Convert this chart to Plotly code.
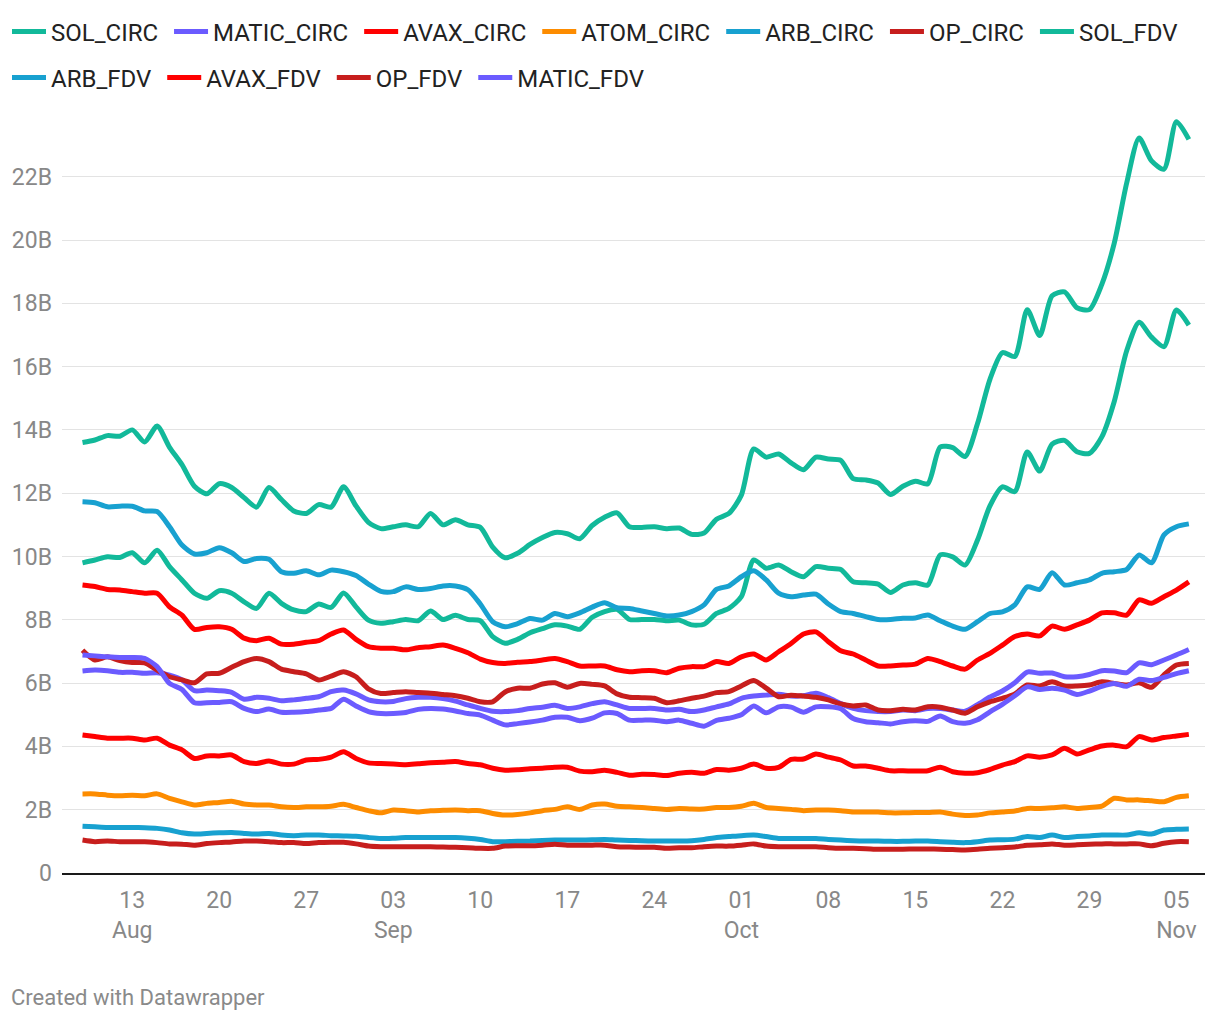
import pandas as pd
import plotly.graph_objects as go

dates = pd.date_range("2023-08-09", periods=90, freq="D")

SOL_FDV = [13.60, 13.68, 13.82, 13.80, 14.00, 13.62, 14.12, 13.45, 12.90, 12.22,
           11.98, 12.30, 12.18, 11.86, 11.56, 12.18, 11.80, 11.44, 11.36, 11.64,
           11.56, 12.20, 11.60, 11.08, 10.88, 10.94, 11.00, 10.94, 11.36, 11.00,
           11.16, 11.00, 10.92, 10.30, 9.96, 10.10, 10.38, 10.60, 10.76, 10.72,
           10.56, 10.98, 11.24, 11.38, 10.94, 10.92, 10.94, 10.88, 10.90, 10.70,
           10.74, 11.18, 11.36, 11.94, 13.40, 13.14, 13.24, 12.96, 12.74, 13.14,
           13.08, 13.04, 12.46, 12.42, 12.32, 11.96, 12.22, 12.38, 12.30, 13.46,
           13.44, 13.16, 14.20, 15.60, 16.44, 16.32, 17.80, 16.98, 18.24, 18.36,
           17.86, 17.80, 18.60, 19.90, 21.80, 23.22, 22.50, 22.24, 23.74, 23.18]

SOL_CIRC = [9.80, 9.89, 9.99, 9.97, 10.12, 9.80, 10.20, 9.68, 9.26, 8.84,
            8.68, 8.92, 8.84, 8.57, 8.36, 8.84, 8.52, 8.31, 8.26, 8.50,
            8.39, 8.85, 8.41, 7.99, 7.89, 7.94, 8.01, 7.97, 8.28, 8.01,
            8.14, 8.01, 7.97, 7.47, 7.26, 7.38, 7.59, 7.72, 7.84, 7.80,
            7.70, 8.08, 8.26, 8.33, 8.01, 8.01, 8.01, 7.97, 7.99, 7.84,
            7.86, 8.20, 8.36, 8.73, 9.89, 9.63, 9.73, 9.52, 9.36, 9.68,
            9.63, 9.59, 9.20, 9.17, 9.13, 8.86, 9.10, 9.17, 9.10, 10.05,
            9.99, 9.73, 10.52, 11.60, 12.20, 12.05, 13.30, 12.70, 13.55, 13.67,
            13.31, 13.26, 13.78, 14.90, 16.50, 17.40, 16.93, 16.63, 17.79, 17.31]

ARB_FDV = [11.73, 11.70, 11.57, 11.59, 11.59, 11.44, 11.42, 10.94, 10.36, 10.08,
           10.12, 10.28, 10.12, 9.84, 9.94, 9.91, 9.52, 9.47, 9.55, 9.42,
           9.57, 9.52, 9.40, 9.13, 8.90, 8.89, 9.04, 8.96, 8.99, 9.07,
           9.07, 8.95, 8.50, 7.94, 7.78, 7.88, 8.04, 7.99, 8.20, 8.10,
           8.22, 8.40, 8.54, 8.38, 8.36, 8.28, 8.20, 8.12, 8.15, 8.26,
           8.47, 8.96, 9.07, 9.36, 9.55, 9.26, 8.84, 8.73, 8.78, 8.81,
           8.50, 8.26, 8.20, 8.10, 8.01, 8.01, 8.05, 8.06, 8.15, 7.97,
           7.80, 7.70, 7.94, 8.20, 8.25, 8.47, 9.04, 8.96, 9.49, 9.10,
           9.17, 9.26, 9.47, 9.52, 9.59, 10.05, 9.80, 10.68, 10.94, 11.03]

AVAX_FDV = [9.10, 9.05, 8.96, 8.94, 8.89, 8.84, 8.84, 8.41, 8.15, 7.70,
            7.76, 7.78, 7.70, 7.42, 7.34, 7.42, 7.23, 7.23, 7.29, 7.34,
            7.55, 7.68, 7.38, 7.15, 7.10, 7.10, 7.05, 7.12, 7.15, 7.20,
            7.10, 6.96, 6.76, 6.65, 6.62, 6.66, 6.68, 6.73, 6.78, 6.68,
            6.54, 6.54, 6.54, 6.42, 6.36, 6.39, 6.39, 6.33, 6.47, 6.52,
            6.52, 6.68, 6.62, 6.83, 6.92, 6.73, 6.99, 7.25, 7.55, 7.62,
            7.31, 7.02, 6.92, 6.73, 6.54, 6.54, 6.57, 6.60, 6.78, 6.68,
            6.54, 6.44, 6.73, 6.94, 7.20, 7.47, 7.55, 7.49, 7.80, 7.70,
            7.84, 7.99, 8.22, 8.22, 8.15, 8.63, 8.52, 8.73, 8.94, 9.20]

OP_FDV = [7.04, 6.73, 6.83, 6.71, 6.65, 6.64, 6.41, 6.20, 6.10, 6.01,
          6.29, 6.31, 6.50, 6.68, 6.78, 6.68, 6.44, 6.36, 6.29, 6.10,
          6.22, 6.36, 6.20, 5.82, 5.67, 5.70, 5.73, 5.70, 5.68, 5.64,
          5.60, 5.52, 5.41, 5.41, 5.72, 5.84, 5.84, 5.97, 6.01, 5.87,
          5.99, 5.96, 5.91, 5.66, 5.55, 5.54, 5.52, 5.38, 5.44, 5.52,
          5.59, 5.70, 5.73, 5.91, 6.08, 5.84, 5.57, 5.62, 5.59, 5.55,
          5.47, 5.34, 5.28, 5.31, 5.15, 5.13, 5.17, 5.15, 5.25, 5.24,
          5.15, 5.05, 5.25, 5.41, 5.52, 5.66, 5.94, 5.91, 6.04, 5.91,
          5.91, 5.94, 6.04, 5.99, 5.94, 6.01, 5.87, 6.26, 6.57, 6.62]

MATIC_FDV = [6.89, 6.86, 6.83, 6.81, 6.81, 6.78, 6.52, 5.99, 5.80, 5.38,
             5.38, 5.39, 5.41, 5.20, 5.10, 5.18, 5.08, 5.08, 5.10, 5.15,
             5.20, 5.49, 5.28, 5.10, 5.04, 5.04, 5.07, 5.17, 5.20, 5.18,
             5.12, 5.04, 4.99, 4.83, 4.68, 4.72, 4.77, 4.83, 4.92, 4.92,
             4.81, 4.89, 5.06, 5.04, 4.83, 4.83, 4.83, 4.78, 4.83, 4.73,
             4.64, 4.82, 4.89, 5.00, 5.28, 5.06, 5.25, 5.24, 5.08, 5.25,
             5.25, 5.19, 4.88, 4.78, 4.75, 4.71, 4.78, 4.81, 4.79, 4.96,
             4.78, 4.73, 4.84, 5.09, 5.33, 5.60, 5.88, 5.80, 5.84, 5.78,
             5.64, 5.75, 5.90, 5.99, 5.90, 6.12, 6.08, 6.18, 6.30, 6.39]

MATIC_CIRC = [6.38, 6.41, 6.39, 6.34, 6.34, 6.31, 6.33, 6.25, 6.10, 5.76,
              5.78, 5.76, 5.71, 5.49, 5.55, 5.52, 5.44, 5.47, 5.52, 5.57,
              5.73, 5.78, 5.66, 5.47, 5.41, 5.42, 5.51, 5.55, 5.55, 5.51,
              5.43, 5.31, 5.20, 5.11, 5.10, 5.13, 5.20, 5.24, 5.30, 5.20,
              5.25, 5.35, 5.41, 5.31, 5.20, 5.20, 5.20, 5.15, 5.17, 5.10,
              5.15, 5.25, 5.34, 5.52, 5.59, 5.62, 5.65, 5.59, 5.60, 5.68,
              5.54, 5.35, 5.20, 5.13, 5.10, 5.10, 5.15, 5.13, 5.20, 5.20,
              5.15, 5.11, 5.32, 5.56, 5.75, 6.01, 6.35, 6.31, 6.32, 6.20,
              6.20, 6.27, 6.39, 6.38, 6.33, 6.64, 6.58, 6.73, 6.89, 7.06]

AVAX_CIRC = [4.36, 4.31, 4.26, 4.26, 4.26, 4.20, 4.26, 4.04, 3.89, 3.62,
             3.70, 3.70, 3.73, 3.52, 3.46, 3.54, 3.44, 3.44, 3.57, 3.59,
             3.66, 3.83, 3.62, 3.48, 3.46, 3.44, 3.42, 3.45, 3.48, 3.50,
             3.52, 3.46, 3.42, 3.31, 3.25, 3.26, 3.29, 3.31, 3.34, 3.34,
             3.22, 3.20, 3.25, 3.18, 3.09, 3.12, 3.11, 3.08, 3.15, 3.18,
             3.15, 3.27, 3.25, 3.31, 3.44, 3.31, 3.34, 3.59, 3.60, 3.76,
             3.66, 3.57, 3.38, 3.38, 3.31, 3.23, 3.23, 3.22, 3.23, 3.34,
             3.20, 3.15, 3.17, 3.27, 3.41, 3.52, 3.70, 3.66, 3.73, 3.94,
             3.76, 3.89, 4.01, 4.04, 3.99, 4.31, 4.20, 4.28, 4.33, 4.38]

ATOM_CIRC = [2.50, 2.50, 2.46, 2.44, 2.46, 2.44, 2.50, 2.36, 2.25, 2.15,
             2.20, 2.23, 2.27, 2.18, 2.15, 2.15, 2.09, 2.07, 2.09, 2.09,
             2.11, 2.17, 2.07, 1.97, 1.90, 1.99, 1.97, 1.93, 1.97, 1.98,
             1.99, 1.97, 1.97, 1.88, 1.83, 1.85, 1.90, 1.97, 2.01, 2.09,
             2.01, 2.15, 2.18, 2.11, 2.09, 2.07, 2.04, 2.01, 2.04, 2.02,
             2.02, 2.07, 2.07, 2.11, 2.20, 2.07, 2.04, 2.01, 1.97, 1.99,
             1.99, 1.97, 1.93, 1.93, 1.93, 1.90, 1.90, 1.91, 1.91, 1.93,
             1.86, 1.82, 1.83, 1.90, 1.93, 1.96, 2.04, 2.04, 2.06, 2.09,
             2.04, 2.07, 2.11, 2.36, 2.31, 2.31, 2.28, 2.25, 2.39, 2.44]

ARB_CIRC = [1.48, 1.46, 1.44, 1.44, 1.44, 1.43, 1.41, 1.36, 1.27, 1.23,
            1.25, 1.27, 1.28, 1.25, 1.23, 1.25, 1.20, 1.18, 1.20, 1.20,
            1.18, 1.17, 1.16, 1.12, 1.09, 1.10, 1.12, 1.12, 1.12, 1.12,
            1.12, 1.10, 1.06, 0.99, 0.99, 1.00, 1.01, 1.03, 1.04, 1.04,
            1.04, 1.05, 1.06, 1.04, 1.03, 1.02, 1.01, 1.01, 1.01, 1.02,
            1.06, 1.12, 1.15, 1.18, 1.20, 1.15, 1.09, 1.09, 1.09, 1.09,
            1.06, 1.04, 1.02, 1.01, 1.01, 1.00, 1.00, 1.01, 1.01, 0.99,
            0.97, 0.96, 0.99, 1.04, 1.05, 1.07, 1.15, 1.12, 1.20, 1.12,
            1.15, 1.17, 1.20, 1.20, 1.20, 1.27, 1.23, 1.36, 1.38, 1.39]

OP_CIRC = [1.04, 0.99, 1.01, 0.99, 0.99, 0.99, 0.96, 0.92, 0.91, 0.88,
           0.93, 0.96, 0.98, 1.01, 1.01, 0.99, 0.96, 0.96, 0.93, 0.96,
           0.97, 0.97, 0.92, 0.85, 0.83, 0.83, 0.83, 0.83, 0.83, 0.82,
           0.81, 0.80, 0.78, 0.78, 0.85, 0.86, 0.86, 0.88, 0.91, 0.88,
           0.88, 0.88, 0.88, 0.83, 0.82, 0.81, 0.81, 0.78, 0.80, 0.80,
           0.83, 0.85, 0.85, 0.88, 0.92, 0.85, 0.83, 0.83, 0.83, 0.83,
           0.80, 0.78, 0.78, 0.77, 0.75, 0.75, 0.75, 0.76, 0.76, 0.75,
           0.74, 0.73, 0.75, 0.78, 0.80, 0.82, 0.88, 0.89, 0.92, 0.88,
           0.89, 0.91, 0.92, 0.92, 0.92, 0.92, 0.86, 0.94, 0.99, 0.99]

tick_dates = ["2023-08-13", "2023-08-20", "2023-08-27", "2023-09-03", "2023-09-10",
              "2023-09-17", "2023-09-24", "2023-10-01", "2023-10-08", "2023-10-15",
              "2023-10-22", "2023-10-29", "2023-11-05"]
tick_text = ["13<br>Aug", "20", "27", "03<br>Sep", "10", "17", "24", "01<br>Oct",
             "08", "15", "22", "29", "05<br>Nov"]
y_ticks = [0, 2, 4, 6, 8, 10, 12, 14, 16, 18, 20, 22]
y_text = ["0"] + [f"{v}B" for v in y_ticks[1:]]

GREEN = "#12b99a"
PURPLE = "#6b5bff"
RED = "#ff0000"
ORANGE = "#fd8c00"
BLUE = "#18a1d0"
DARKRED = "#c71e1d"

row1 = [("SOL_CIRC", SOL_CIRC, GREEN), ("MATIC_CIRC", MATIC_CIRC, PURPLE),
        ("AVAX_CIRC", AVAX_CIRC, RED), ("ATOM_CIRC", ATOM_CIRC, ORANGE),
        ("ARB_CIRC", ARB_CIRC, BLUE), ("OP_CIRC", OP_CIRC, DARKRED),
        ("SOL_FDV", SOL_FDV, GREEN)]
row2 = [("ARB_FDV", ARB_FDV, BLUE), ("AVAX_FDV", AVAX_FDV, RED),
        ("OP_FDV", OP_FDV, DARKRED), ("MATIC_FDV", MATIC_FDV, PURPLE)]

fig = go.Figure()
for leg, row in (("legend", row1), ("legend2", row2)):
    for name, vals, col in row:
        fig.add_trace(go.Scatter(
            x=dates, y=vals, name=name + "\u00a0", mode="lines", legend=leg,
            line=dict(color=col, width=5, shape="spline", smoothing=0.7),
        ))

W, H = 1220, 1020
L, R, T, B = 62, 15, 105, 147
plot_w = W - L - R
plot_h = H - T - B

legend_common = dict(orientation="h", xref="paper", yref="paper",
                     x=(7 - L) / plot_w, xanchor="left", yanchor="middle",
                     itemwidth=34,
                     font=dict(family="Roboto", size=24, color="#222222"),
                     bgcolor="rgba(0,0,0,0)")

fig.update_layout(
    width=W, height=H,
    margin=dict(l=L, r=R, t=T, b=B, autoexpand=False),
    paper_bgcolor="white", plot_bgcolor="white",
    font=dict(family="Roboto", size=24, color="#333333"),
    legend=dict(y=(H - B - 32) / plot_h, **legend_common),
    legend2=dict(y=(H - B - 78) / plot_h, **legend_common),
    xaxis=dict(
        type="date",
        range=["2023-08-07 08:24", "2023-11-07 07:12"],
        tickvals=tick_dates, ticktext=tick_text,
        showgrid=False, zeroline=False,
        showline=True, linecolor="#1a1a1a", linewidth=2,
        ticks="", ticklabelstandoff=5,
        tickfont=dict(size=23, color="#888888"),
    ),
    yaxis=dict(
        range=[0, plot_h / 31.65],
        tickvals=y_ticks, ticktext=y_text,
        showgrid=True, gridcolor="#e3e3e3", gridwidth=1,
        zeroline=False, showline=False, ticks="",
        ticklabelstandoff=9,
        tickfont=dict(size=23, color="#888888"),
    ),
    showlegend=True,
)

fig.add_annotation(
    text="Created with Datawrapper", showarrow=False,
    xref="paper", yref="paper",
    x=(9 - L) / plot_w, y=(H - B - 997) / plot_h,
    xanchor="left", yanchor="middle",
    font=dict(family="Roboto", size=22, color="#8a8a8a"),
)

fig.write_html("out.html")
